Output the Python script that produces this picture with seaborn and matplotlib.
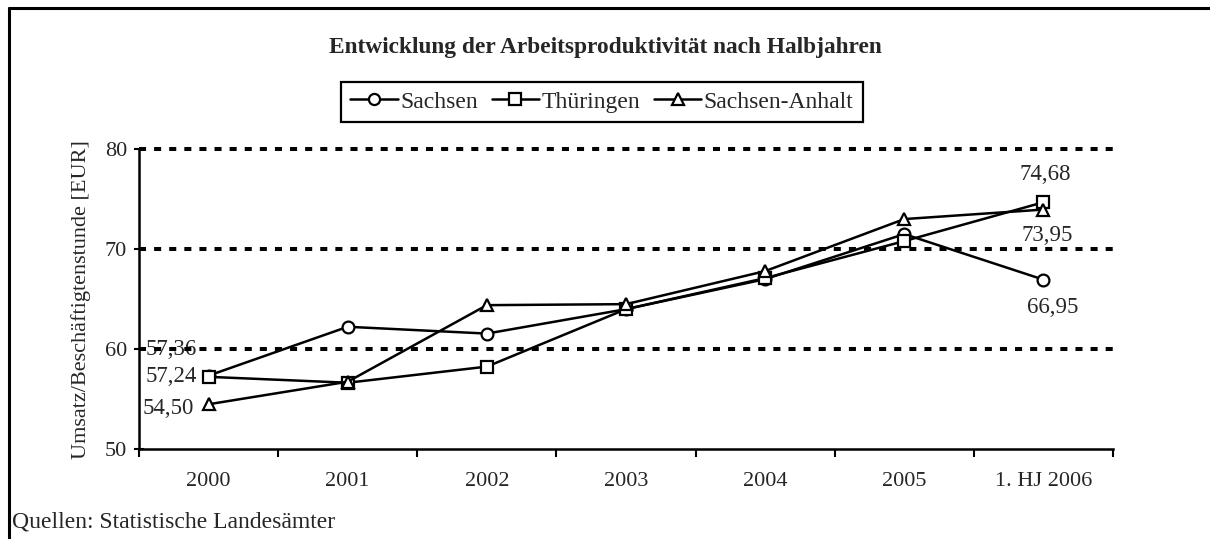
import pandas as pd
import matplotlib.pyplot as plt
from matplotlib.lines import Line2D
import seaborn as sns

jahre = ['2000', '2001', '2002', '2003', '2004', '2005', '1. HJ 2006']
sachsen = [57.36, 62.24, 61.56, 64.0, 67.0, 71.5, 66.95]
thueringen = [57.24, 56.65, 58.26, 64.0, 67.1, 70.8, 74.68]
sachsen_anhalt = [54.50, 56.75, 64.4, 64.5, 67.8, 73.0, 73.95]
laender = ['Sachsen', 'Thüringen', 'Sachsen-Anhalt']
marker = ['o', 's', '^']

df = pd.DataFrame({
    'Jahr': jahre * 3,
    'Wert': sachsen + thueringen + sachsen_anhalt,
    'Land': [l for l in laender for _ in jahre],
})

sns.set_style('white')
plt.rcParams['font.family'] = ['Liberation Serif', 'DejaVu Serif']
plt.rcParams['font.size'] = 16

fig = plt.figure(figsize=(12.1, 5.39), dpi=100)
ax = fig.add_axes([139 / 1210, 1 - 449.3 / 539, 974 / 1210, 300.3 / 539])

sns.lineplot(data=df, x='Jahr', y='Wert', style='Land', markers=marker,
             dashes=False, color='black', linewidth=1.8, markersize=8.5,
             markerfacecolor='white', markeredgecolor='black',
             markeredgewidth=1.6, legend=False, ax=ax, zorder=3)

ax.set_xlim(-0.5, 6.5)
ax.set_ylim(50, 80)
ax.set_yticks([50, 60, 70, 80])
for v in [60, 70, 80]:
    ax.axhline(v, color='black', lw=2.9, linestyle=(0, (1.75, 2.0)),
               dash_capstyle='butt', clip_on=False, zorder=1.5)

ax.set_xticks(range(len(jahre)))
ax.set_xticklabels(jahre)
ax.set_xticks([i - 0.5 for i in range(len(jahre) + 1)], minor=True)
ax.tick_params(axis='x', which='major', length=0, pad=16.5, labelsize=16)
ax.tick_params(axis='x', which='minor', length=5.5, width=1.5, direction='out',
               color='black', bottom=True)
ax.tick_params(axis='y', length=7, width=1.5, direction='inout', pad=5,
               labelsize=16, color='black', left=True)

for s in ['top', 'right']:
    ax.spines[s].set_visible(False)
for s in ['left', 'bottom']:
    ax.spines[s].set_color('black')
    ax.spines[s].set_linewidth(1.8)

ax.set_xlabel('')
ax.set_ylabel('Umsatz/Beschäftigtenstunde [EUR]', fontsize=16)
ax.yaxis.set_label_coords(-0.049, 0.5)

# Werte-Beschriftungen
beschriftung = [
    (0, sachsen[0], '57,36', -37, 26),
    (0, thueringen[0], '57,24', -37, 0),
    (0, sachsen_anhalt[0], '54,50', -40, -4),
    (6, thueringen[6], '74,68', 2, 28),
    (6, sachsen_anhalt[6], '73,95', 4, -26),
    (6, sachsen[6], '66,95', 9, -28),
]
for x, y, t, dx, dy in beschriftung:
    ax.annotate(t, (x, y), xytext=(dx, dy), textcoords='offset pixels',
                ha='center', va='center', fontsize=16.5, zorder=1)

handles = [Line2D([], [], color='black', lw=1.8, marker=m, markersize=8,
                  markerfacecolor='white', markeredgecolor='black',
                  markeredgewidth=1.6) for m in marker]
leg = fig.legend(handles, laender, loc='center', ncol=3,
                 bbox_to_anchor=(602 / 1210, 1 - 102 / 539),
                 frameon=True, fancybox=False, edgecolor='black',
                 framealpha=1, fontsize=17, handlelength=2.0,
                 handletextpad=0.1, columnspacing=0.6, borderpad=0.4,
                 numpoints=1)
leg.get_frame().set_linewidth(1.6)

fig.text(0.5, 1 - 48 / 539, 'Entwicklung der Arbeitsproduktivität nach Halbjahren',
         ha='center', va='center', fontsize=16.8, fontweight='bold')
fig.text(12 / 1210, 1 - 522 / 539, 'Quellen: Statistische Landesämter',
         ha='left', va='center', fontsize=17)

# Rahmen oben und links
fig.add_artist(Line2D([9 / 1210, 1], [1 - 8 / 539, 1 - 8 / 539],
                      color='black', lw=2.2, transform=fig.transFigure))
fig.add_artist(Line2D([9 / 1210, 9 / 1210], [0, 1 - 8 / 539],
                      color='black', lw=2.2, transform=fig.transFigure))

fig.savefig('out.png', dpi=100)
